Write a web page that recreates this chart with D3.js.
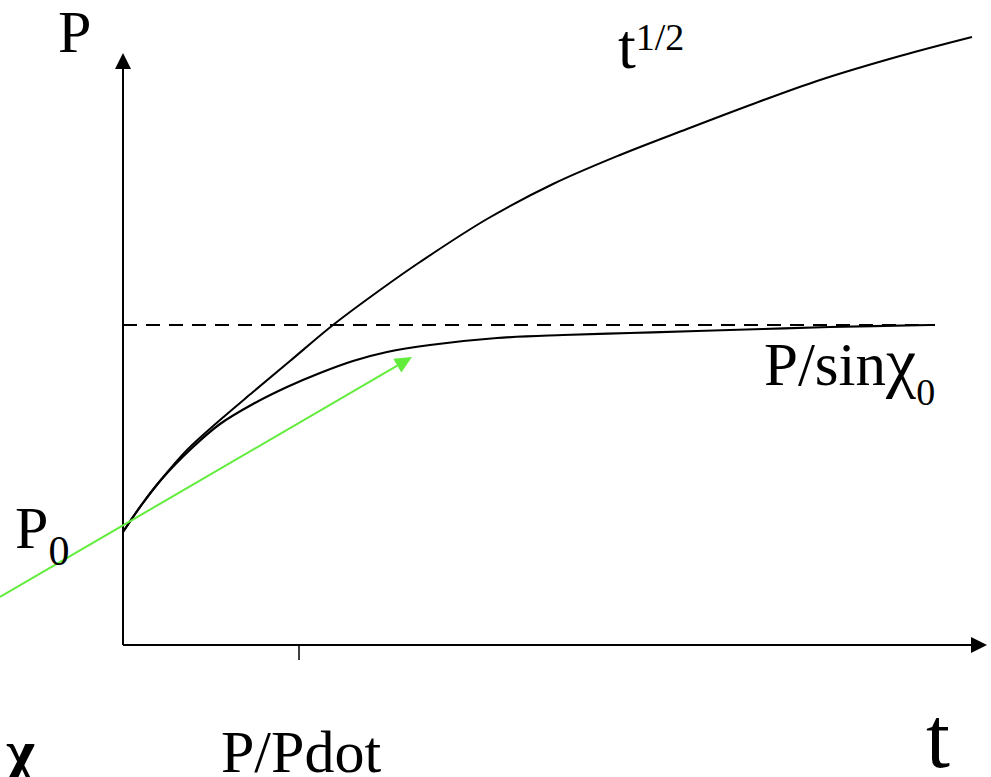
<!DOCTYPE html>
<html>
<head>
<meta charset="utf-8">
<script src="https://cdn.jsdelivr.net/npm/d3@7/dist/d3.min.js"></script>
<style>
  html, body { margin: 0; padding: 0; background: #fff; }
  svg { display: block; }
  text { font-family: "Liberation Serif", "Times New Roman", serif; fill: #000; }
</style>
</head>
<body>
<svg id="chart" width="991" height="777"></svg>
<script>
// Diffusion-limited growth curve (t^1/2) and saturating curve approaching P/sin(chi0)
const sqrtCurveT = [0, 0.17, 0.37, 0.64, 0.97, 1.30, 1.67, 2.10, 2.57, 2.97, 3.64, 4.30, 4.97, 5.64, 6.30, 6.97, 7.77, 8.49];
const sqrtCurveP = [1.13, 1.38, 1.64, 1.95, 2.25, 2.53, 2.84, 3.20, 3.55, 3.83, 4.26, 4.61, 4.90, 5.16, 5.41, 5.65, 5.89, 6.08];

const satCurveT = [0, 0.17, 0.37, 0.70, 0.97, 1.30, 1.64, 1.97, 2.30, 2.64, 3.07, 3.74, 4.40, 5.07, 5.74, 6.40, 7.07, 8.07];
const satCurveP = [1.13, 1.38, 1.64, 1.98, 2.21, 2.41, 2.58, 2.72, 2.84, 2.93, 3.00, 3.07, 3.10, 3.12, 3.14, 3.16, 3.18, 3.20];

const asymptoteP = 3.20;      // P / sin(chi0)
const asymptoteEndT = 8.12;
const tickT = [1.76];         // P / Pdot
const initialSlopeT = [-1.23, 2.89];   // tangent at the origin (green arrow)
const initialSlopeP = [0.48, 2.88];

const tMax = 8.64, pMax = 5.92;

const svg = d3.select("#chart");
const x = d3.scaleLinear().domain([0, tMax]).range([123, 987]);
const y = d3.scaleLinear().domain([0, pMax]).range([645, 53]);

const line = d3.line().x(d => x(d[0])).y(d => y(d[1])).curve(d3.curveCatmullRom.alpha(0.5));

// axes
svg.append("line").attr("x1", x(0)).attr("y1", y(0)).attr("x2", x(0)).attr("y2", y(pMax) + 15)
  .attr("stroke", "#000").attr("stroke-width", 2);
svg.append("path")
  .attr("d", `M${x(0)},${y(pMax)} L${x(0) - 8},${y(pMax) + 16} L${x(0) + 8},${y(pMax) + 16} Z`)
  .attr("fill", "#000");
svg.append("line").attr("x1", x(0)).attr("y1", y(0)).attr("x2", x(tMax) - 14).attr("y2", y(0))
  .attr("stroke", "#000").attr("stroke-width", 2);
svg.append("path")
  .attr("d", `M${x(tMax)},${y(0)} L${x(tMax) - 16},${y(0) - 8} L${x(tMax) - 16},${y(0) + 8} Z`)
  .attr("fill", "#000");

// tick on time axis
svg.selectAll(".tick").data(tickT).enter().append("line")
  .attr("x1", d => x(d)).attr("x2", d => x(d))
  .attr("y1", y(0)).attr("y2", y(0) + 15)
  .attr("stroke", "#000").attr("stroke-width", 1.5);

// dashed asymptote
svg.append("line")
  .attr("x1", x(0)).attr("x2", x(asymptoteEndT))
  .attr("y1", y(asymptoteP)).attr("y2", y(asymptoteP))
  .attr("stroke", "#000").attr("stroke-width", 2)
  .attr("stroke-dasharray", "14,9");

// curves
svg.append("path").datum(d3.zip(sqrtCurveT, sqrtCurveP))
  .attr("d", line).attr("fill", "none").attr("stroke", "#000").attr("stroke-width", 2);
svg.append("path").datum(d3.zip(satCurveT, satCurveP))
  .attr("d", line).attr("fill", "none").attr("stroke", "#000").attr("stroke-width", 2.2);

// green initial-slope arrow
const gx0 = x(initialSlopeT[0]), gy0 = y(initialSlopeP[0]);
const gx1 = x(initialSlopeT[1]), gy1 = y(initialSlopeP[1]);
const ang = Math.atan2(gy1 - gy0, gx1 - gx0);
const headLen = 17, headHalf = 8;
const bx = gx1 - headLen * Math.cos(ang), by = gy1 - headLen * Math.sin(ang);
svg.append("line").attr("x1", gx0).attr("y1", gy0).attr("x2", bx).attr("y2", by)
  .attr("stroke", "#62ec3c").attr("stroke-width", 2);
svg.append("path")
  .attr("d", `M${gx1},${gy1} L${bx + headHalf * Math.sin(ang)},${by - headHalf * Math.cos(ang)} L${bx - headHalf * Math.sin(ang)},${by + headHalf * Math.cos(ang)} Z`)
  .attr("fill", "#62ec3c");

// labels
svg.append("text").attr("x", 58).attr("y", 52).attr("font-size", 60).text("P");

const tl = svg.append("text").attr("x", 618).attr("y", 68).attr("font-size", 64);
tl.append("tspan").text("t");
tl.append("tspan").attr("font-size", 38).attr("dy", -18).text("1/2");

const ps = svg.append("text").attr("x", 764).attr("y", 385).attr("font-size", 61);
ps.append("tspan").text("P/sin");
ps.append("tspan").attr("font-size", 68).text("χ");
ps.append("tspan").attr("font-size", 38).attr("dy", 20).text("0");

const p0 = svg.append("text").attr("x", 15).attr("y", 548).attr("font-size", 60);
p0.append("tspan").text("P");
p0.append("tspan").attr("font-size", 42).attr("dy", 17).text("0");

svg.append("text").attr("x", 6).attr("y", 772).attr("font-size", 62).attr("font-weight", "bold").text("χ");
svg.append("text").attr("x", 221).attr("y", 772).attr("font-size", 60).text("P/Pdot");
svg.append("text").attr("x", 926).attr("y", 767).attr("font-size", 86).text("t");
</script>
</body>
</html>
